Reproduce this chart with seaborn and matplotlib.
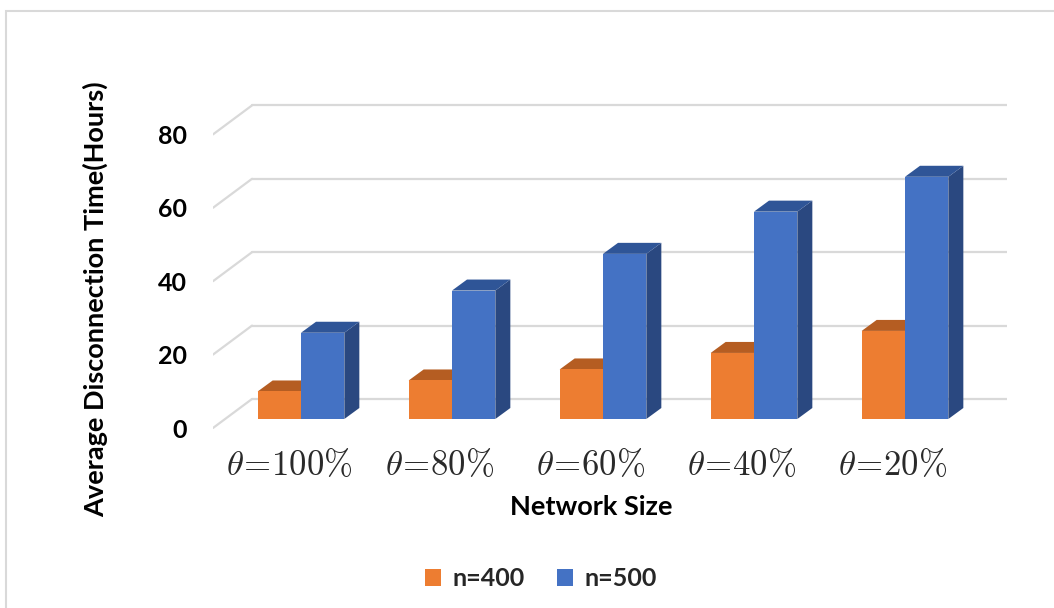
import numpy as np
import pandas as pd
import matplotlib
matplotlib.use("Agg")
import matplotlib.pyplot as plt
from matplotlib.patches import Polygon, Rectangle
from matplotlib.lines import Line2D
import seaborn as sns

# ---- data ----
categories = [r"$\theta\!=\!100\%$", r"$\theta\!=\!80\%$", r"$\theta\!=\!60\%$",
              r"$\theta\!=\!40\%$", r"$\theta\!=\!20\%$"]
series = ["n=400", "n=500"]
n400 = [7.5, 10.5, 13.5, 18.0, 24.0]
n500 = [23.5, 35.0, 45.0, 56.5, 66.0]
yticks = [0, 20, 40, 60, 80]

df = pd.DataFrame({
    "cat": list(range(len(categories))) * 2,
    "series": [series[0]] * len(n400) + [series[1]] * len(n500),
    "value": n400 + n500,
})

# ---- style ----
sns.set_theme(style="white")
plt.rcParams["font.family"] = ["Lato", "DejaVu Sans"]
plt.rcParams["mathtext.fontset"] = "cm"

ORANGE, BLUE = "#ED7D31", "#4472C4"
TOP = {ORANGE: "#B55D22", BLUE: "#2F5597"}
SIDE = {ORANGE: "#A9521B", BLUE: "#2A4880"}
GRID = "#D9D9D9"

W, H = 1054, 608
fig = plt.figure(figsize=(W / 100, H / 100), dpi=100)
# axes box in pixel coordinates (left, top, right, bottom)
L, T, R, B = 213, 90, 1007, 440
ax = fig.add_axes([L / W, 1 - B / H, (R - L) / W, (B - T) / H])

sns.barplot(data=df, x="cat", y="value", hue="series", palette=[ORANGE, BLUE],
            width=0.574, saturation=1, linewidth=0, ax=ax, legend=True)

# projection constants (data units)
px_x, px_y = 151.0, 3.67          # pixels per category / per value unit
x0_px, y0_px = 301.0, 419.0       # pixel of category 0 / value 0 on the bar front plane
ax.set_xlim((L - x0_px) / px_x, (R - x0_px) / px_x)
ax.set_ylim((y0_px - B) / px_y, (y0_px - T) / px_y)

bar_dx, bar_dy = 15 / px_x, 11 / px_y       # bar depth
back_dx, back_dy = 27 / px_x, 20 / px_y     # back wall offset
front_dx, front_dy = -12 / px_x, -9 / px_y  # front edge offset

# gridlines: back wall + diagonal on the left wall
xl_front = ax.get_xlim()[0]
xl_back = xl_front + (back_dx - front_dx)
for v in yticks:
    ax.add_line(Line2D([xl_back, ax.get_xlim()[1]], [v + back_dy] * 2,
                       color=GRID, lw=1.6, zorder=0.5))
    ax.add_line(Line2D([xl_front, xl_back], [v + front_dy, v + back_dy],
                       color=GRID, lw=1.6, zorder=0.5))

# 3-D faces for each bar
for k, cont in enumerate(ax.containers):
    base_z = 2 + k
    for p in cont.patches:
        col = matplotlib.colors.to_hex(p.get_facecolor())
        col = ORANGE if col.lower() == ORANGE.lower() else BLUE
        x, w, h = p.get_x(), p.get_width(), p.get_height()
        p.set_zorder(base_z + 0.2)
        side = Polygon([(x + w, 0), (x + w + bar_dx, bar_dy),
                        (x + w + bar_dx, h + bar_dy), (x + w, h)],
                       closed=True, facecolor=SIDE[col], edgecolor="none",
                       zorder=base_z)
        top = Polygon([(x, h), (x + w, h), (x + w + bar_dx, h + bar_dy),
                       (x + bar_dx, h + bar_dy)],
                      closed=True, facecolor=TOP[col], edgecolor="none",
                      zorder=base_z + 0.1)
        ax.add_patch(side)
        ax.add_patch(top)

# axes dressing
for s in ax.spines.values():
    s.set_visible(False)
ax.set_xlabel("")
ax.set_ylabel("")
ax.set_yticks([v + front_dy for v in yticks], [str(v) for v in yticks])
ax.set_xticks([i + front_dx for i in range(len(categories))], categories)
ax.tick_params(axis="y", length=0, pad=19, labelsize=18, labelcolor="black")
ax.tick_params(axis="x", length=0, pad=6, labelsize=25, labelcolor="#2a2a2a")
for t in ax.get_yticklabels():
    t.set_fontweight("bold")

fig.text(95 / W, 1 - 299 / H, "Average Disconnection Time(Hours)", rotation=90,
         ha="center", va="center", fontsize=19.5, fontweight="bold", color="black")
fig.text(591 / W, 1 - 507 / H, "Network Size", ha="center", va="center",
         fontsize=19.5, fontweight="bold", color="black")

sns.move_legend(ax, "center", bbox_to_anchor=(541 / W, 1 - 579 / H),
                bbox_transform=fig.transFigure, ncol=2, frameon=False, title=None,
                fontsize=18, handlelength=0.65, handleheight=0.65,
                handletextpad=0.45, columnspacing=1.3)
for t in ax.get_legend().get_texts():
    t.set_fontweight("bold")

# light frame around the chart area
fig.add_artist(Rectangle((6 / W, -0.1), 1.2, (H - 11) / H + 0.1,
                         transform=fig.transFigure, fill=False,
                         edgecolor=GRID, lw=1.5))

fig.savefig("out.png", dpi=100)
